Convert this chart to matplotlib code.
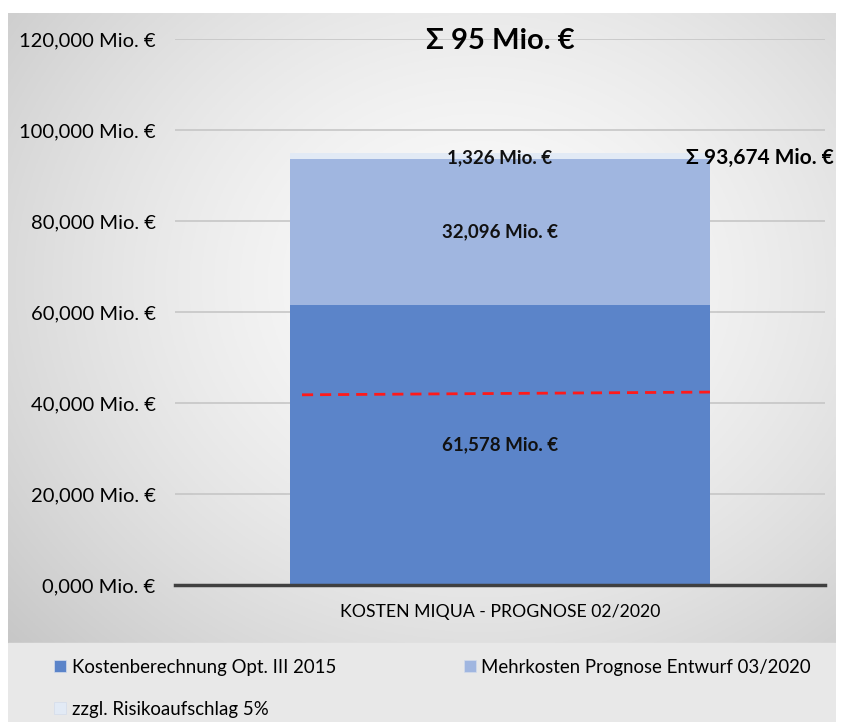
import matplotlib.pyplot as plt
from matplotlib.lines import Line2D
import numpy as np

# data
category = "KOSTEN MIQUA - PROGNOSE 02/2020"
series = ["Kostenberechnung Opt. III 2015",
          "Mehrkosten Prognose Entwurf 03/2020",
          "zzgl. Risikoaufschlag 5%"]
values = [61578, 32096, 1326]
labels = ["61,578 Mio. €", "32,096 Mio. €", "1,326 Mio. €"]
colors = ["#5b84c9", "#a0b6e0", "#e2eaf5"]
yticks = [0, 20000, 40000, 60000, 80000, 100000, 120000]
ytick_labels = ["0,000 Mio. €", "20,000 Mio. €", "40,000 Mio. €", "60,000 Mio. €",
                "80,000 Mio. €", "100,000 Mio. €", "120,000 Mio. €"]
sum_label = "Σ 93,674 Mio. €"
total_label = "Σ 95 Mio. €"
ref_line = [41800, 42400]   # red dashed line, left and right end

plt.rcParams['font.family'] = ['Lato', 'DejaVu Sans']

W, H = 844, 722
fig = plt.figure(figsize=(W / 100, H / 100), dpi=100)

# background: radial grey gradient for chart area, flat grey for legend strip
bg = fig.add_axes([8 / W, 0, 828 / W, (H - 13) / H], zorder=-5)
gx, gy = np.meshgrid(np.linspace(0, 1, 300), np.linspace(0, 1, 300))
r = np.sqrt(((gx - 0.57) / 0.75) ** 2 + ((gy - 0.62) / 0.75) ** 2)
shade = 0.985 - 0.2 * np.clip(r, 0, 1.2) ** 1.6
img = np.dstack([shade] * 3)
bg.imshow(img, extent=[0, 1, 0, 1], aspect='auto', origin='lower')
bg.axhspan(0, (H - 643) / (H - 13), color="#e8e8e8")
bg.set_xlim(0, 1)
bg.set_ylim(0, 1)
bg.axis('off')

ax = fig.add_axes([175 / W, (H - 585) / H, 650 / W, 546 / H])
ax.patch.set_alpha(0)

bottom = 0
for v, c, name in zip(values, colors, series):
    ax.bar(0, v, width=0.646, bottom=bottom, color=c, label=name, zorder=3)
    bottom += v

# segment labels
bottom = 0
for v, lab in zip(values, labels):
    ypos = bottom + v / 2 if v > 5000 else bottom + v - 1200
    ax.text(0, ypos, lab, ha='center', va='center', fontsize=13.5,
            fontweight='bold', color='#111111', zorder=5)
    bottom += v

ax.text(0.40, values[0] + values[1] + 200, sum_label, ha='center',
        va='center', fontsize=15, fontweight='bold', clip_on=False, zorder=5)
ax.text(0, 119500, total_label, ha='center', va='center', fontsize=21,
        fontweight='bold', zorder=5)

ax.plot([-0.3046, 0.323], ref_line, color='#ff1a1a', lw=2,
        ls=(0, (4, 2.5)), zorder=4)

ax.set_xlim(-0.5, 0.5)
ax.set_ylim(0, 120000)
ax.set_yticks(yticks)
ax.set_yticklabels(ytick_labels, fontsize=14.5)
ax.tick_params(axis='y', length=0, pad=14)
ax.set_xticks([0])
ax.set_xticklabels([category], fontsize=12.7)
ax.tick_params(axis='x', length=0, pad=14)
ax.grid(axis='y', color='#c6c6c6', lw=1.2, zorder=0)
for s in ['left', 'right', 'top']:
    ax.spines[s].set_visible(False)
ax.spines['bottom'].set_color('#404040')
ax.spines['bottom'].set_linewidth(2.5)
ax.spines['bottom'].set_zorder(6)

# legend filled column-wise, so order handles to read row by row
order = [0, 2, 1]
handles = [Line2D([], [], marker='s', ls='', markersize=8, color=colors[i],
                  markeredgecolor='#d4dceb', markeredgewidth=0.5)
           for i in order]
fig.legend(handles, [series[i] for i in order], loc='upper left',
           bbox_to_anchor=(38 / W, 1 - 642 / H),
           ncol=2, frameon=False, fontsize=13.4, handlelength=0.6,
           handletextpad=0.3, columnspacing=6.9, labelspacing=1.33)

fig.savefig("out.png", dpi=100)
